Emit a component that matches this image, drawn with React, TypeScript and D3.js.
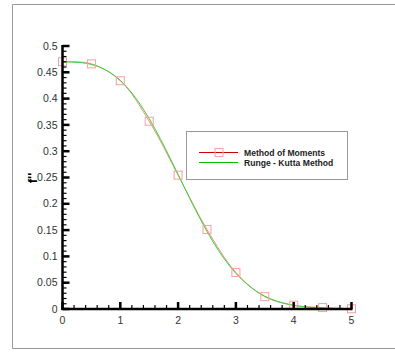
import * as d3 from "d3";

// eta positions of the Runge-Kutta solution
const rkEta = [0, 0.2, 0.4, 0.6, 0.8, 1.0, 1.2, 1.4, 1.6, 1.8, 2.0, 2.2, 2.4, 2.6, 2.8, 3.0, 3.2, 3.4, 3.6, 3.8, 4.0, 4.2, 4.4, 4.6, 4.8, 5.0];
const rkValues = [0.4696, 0.4693, 0.4673, 0.4617, 0.4512, 0.4344, 0.4106, 0.3797, 0.3425, 0.3005, 0.2557, 0.2106, 0.1676, 0.1286, 0.0951, 0.0677, 0.0464, 0.0305, 0.0193, 0.0118, 0.0069, 0.0039, 0.0021, 0.0011, 0.0005, 0.0003];

// method of moments points (markers)
const momEta = [0, 0.5, 1, 1.5, 2, 2.5, 3, 3.5, 4, 4.5, 5];
const momValues = [0.47, 0.466, 0.434, 0.357, 0.2545, 0.151, 0.0695, 0.0235, 0.0072, 0.0027, 0.0005];

const legendLabels = ["Method of Moments", "Runge - Kutta Method"];
const xTickValues = [0, 1, 2, 3, 4, 5];
const yTickValues = [0, 0.05, 0.1, 0.15, 0.2, 0.25, 0.3, 0.35, 0.4, 0.45, 0.5];

const W = 395;
const H = 352;
const FONT = "Arial, 'Liberation Sans', sans-serif";

export default function App() {
  const x = d3.scaleLinear().domain([0, 5]).range([62.5, 351.5]);
  const y = d3.scaleLinear().domain([0, 0.5]).range([309, 46]);

  const line = d3
    .line<[number, number]>()
    .x((d) => x(d[0]))
    .y((d) => y(d[1]))
    .curve(d3.curveCatmullRom);

  const rkPts = rkEta.map((e, i) => [e, rkValues[i]] as [number, number]);
  const momPts = momEta.map((e, i) => [e, momValues[i]] as [number, number]);

  const xMinor = d3.range(0, 5.001, 0.2);
  const yMinor = d3.range(0, 0.5001, 0.01);

  const x0 = x(0);
  const y0 = y(0);
  const fmt = (v: number) => d3.format("~g")(+v.toFixed(2));

  return (
    <svg width={W} height={H} style={{ position: "absolute", left: 0, top: 0 }} fontFamily={FONT}>
      <rect width={W} height={H} fill="#fff" />
      {/* frame */}
      <path d={`M${W},4.5H12.5V348.5H${W}`} fill="none" stroke="#999" strokeWidth={1} />

      {/* curves */}
      <path d={line(momPts) ?? ""} fill="none" stroke="#f28c8c" strokeWidth={1} />
      <path d={line(rkPts) ?? ""} fill="none" stroke="#2fd62f" strokeWidth={1} />
      {momPts.map((p, i) => (
        <rect
          key={i}
          x={x(p[0]) - 4}
          y={y(p[1]) - 4}
          width={8}
          height={8}
          fill="none"
          stroke="#f4a0a0"
          strokeWidth={1}
        />
      ))}

      {/* y axis */}
      <line x1={x0} x2={x0} y1={y(0.5) - 1} y2={y0 + 1} stroke="#000" strokeWidth={2.5} />
      {yMinor.map((v, i) => (
        <line key={i} x1={x0} x2={x0 + 4} y1={y(v)} y2={y(v)} stroke="#000" strokeWidth={1.2} />
      ))}
      {yTickValues.map((v) => (
        <g key={v}>
          <line x1={x0} x2={x0 + 7} y1={y(v)} y2={y(v)} stroke="#000" strokeWidth={2.5} />
          <text x={x0 - 5} y={y(v)} dy="0.35em" textAnchor="end" fontSize={10.5} fill="#333">
            {fmt(v)}
          </text>
        </g>
      ))}

      {/* x axis */}
      <line x1={x0 - 1} x2={x(5) + 1} y1={y0} y2={y0} stroke="#000" strokeWidth={2.5} />
      {xMinor.map((v, i) => (
        <line key={i} x1={x(v)} x2={x(v)} y1={y0} y2={y0 - 4} stroke="#000" strokeWidth={1.2} />
      ))}
      {xTickValues.map((v) => (
        <g key={v}>
          <line x1={x(v)} x2={x(v)} y1={y0} y2={y0 - 7} stroke="#000" strokeWidth={2.5} />
          <text x={x(v)} y={y0 + 15} textAnchor="middle" fontSize={10.5} fill="#333">
            {v}
          </text>
        </g>
      ))}

      {/* y label */}
      <text
        transform="translate(37,178) rotate(-90)"
        textAnchor="middle"
        fontSize={13}
        fontWeight="bold"
        fill="#000"
      >
        f''
      </text>

      {/* legend */}
      <rect x={186.5} y={131.5} width={161} height={48} fill="#fff" stroke="#999" strokeWidth={1} />
      <line x1={199} x2={238} y1={152.5} y2={152.5} stroke="#cc0000" strokeWidth={1.2} />
      <rect x={215} y={148.5} width={8} height={8} fill="none" stroke="#f4a0a0" />
      <line x1={199} x2={238} y1={162.5} y2={162.5} stroke="#00c000" strokeWidth={1.2} />
      {legendLabels.map((t, i) => (
        <text key={t} x={244} y={152.5 + i * 10} dy="0.35em" fontSize={8.6} fontWeight="bold" fill="#222">
          {t}
        </text>
      ))}
    </svg>
  );
}
